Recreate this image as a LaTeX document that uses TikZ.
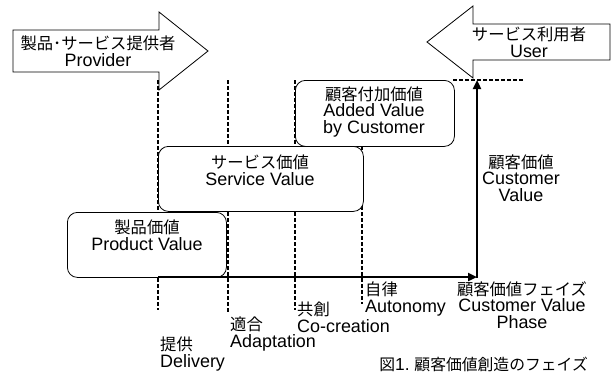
\documentclass[tikz,border=0pt]{standalone}
\usepackage{fontspec}
\setmainfont{Liberation Sans}[Scale=1.1]
\newfontfamily\jafont{Noto Sans CJK JP}
\usetikzlibrary{arrows.meta}
\newcommand{\ja}[1]{{\jafont #1}}
\begin{document}
\begin{tikzpicture}[x=1pt,y=-1pt,
  lbl/.style={font=\fontsize{16.3}{16.5}\selectfont, align=center, inner sep=0pt},
  lbll/.style={font=\fontsize{16.3}{16.5}\selectfont, align=left, inner sep=0pt, anchor=north west},
  vbox/.style={draw, fill=white, rounded corners=10pt, line width=0.8pt, anchor=north west, inner sep=0pt},
  phase/.style={line width=1.8pt, dash pattern=on 3.5pt off 2.5pt},
  bigarrow/.style={draw, fill=white, line width=0.8pt},
  axis/.style={line width=2.5pt, -{Triangle[length=9pt,width=8pt]}}]
\useasboundingbox (0,0) rectangle (613,380);

% phase coordinates
\coordinate (d1t) at (158,80);  \coordinate (d1b) at (158,310);
\coordinate (d2t) at (228,80);  \coordinate (d2b) at (228,312);
\coordinate (d3t) at (295,80);  \coordinate (d3b) at (295,310);
\coordinate (d4t) at (362,80);  \coordinate (d4b) at (362,304);
\coordinate (hl) at (453,80);   \coordinate (hr) at (523,80);
\draw[phase] (d1t) -- (d1b);
\draw[phase] (d2t) -- (d2b);
\draw[phase] (d3t) -- (d3b);
\draw[phase] (d4t) -- (d4b);
\draw[phase] (hl) -- (hr);

% big arrows
\draw[bigarrow] (13,30) -- (159,30) -- (159,12) -- (208,51) -- (159,90) -- (159,72) -- (13,72) -- cycle;
\node[lbl] (prov) at (98,51) {\ja{製品･サービス提供者}\\Provider};
\draw[bigarrow] (610,24) -- (473,24) -- (473,6) -- (427,42) -- (473,78) -- (473,60) -- (610,60) -- cycle;
\node[lbl] (user) at (529,42) {\ja{サービス利用者}\\User};

% value boxes
\node[vbox, minimum width=159pt, minimum height=66pt] (added) at (295,80) {};
\node[lbl] (addedt) at (374,112) {\ja{顧客付加価値}\\Added Value\\by Customer};
\node[vbox, minimum width=205pt, minimum height=65pt] (serv) at (158,146) {};
\node[lbl] (servt) at (260,170) {\ja{サービス価値}\\Service Value};
\node[vbox, minimum width=159pt, minimum height=65pt] (prod) at (67,212) {};
\node[lbl] (prodt) at (147,235) {\ja{製品価値}\\Product Value};

% axes
\coordinate (o) at (158,277);
\coordinate (c) at (477,277);
\coordinate (cx) at (477,278.2);
\coordinate (top) at (477,80);
\draw[axis] (o) -- (c);
\draw[axis] (cx) -- (top);

\node[lbl] (cv) at (521,178) {\ja{顧客価値}\\Customer\\Value};
\node[lbl] (cvp) at (522,305) {\ja{顧客価値フェイズ}\\Customer Value\\Phase};

% phase labels
\node[lbll] (deliv) at (160,337) {\ja{提供}\\Delivery};
\node[lbll] (adapt) at (230,317) {\ja{適合}\\Adaptation};
\node[lbll] (cocr) at (297,302) {\ja{共創}\\Co-creation};
\node[lbll] (auto) at (365,282) {\ja{自律}\\Autonomy};

% caption
\node[font=\fontsize{15.8}{20}\selectfont, anchor=east, inner sep=0pt] (cap) at (588,364) {\ja{図}1.\ \ja{顧客価値創造のフェイズ}};
\end{tikzpicture}
\end{document}
